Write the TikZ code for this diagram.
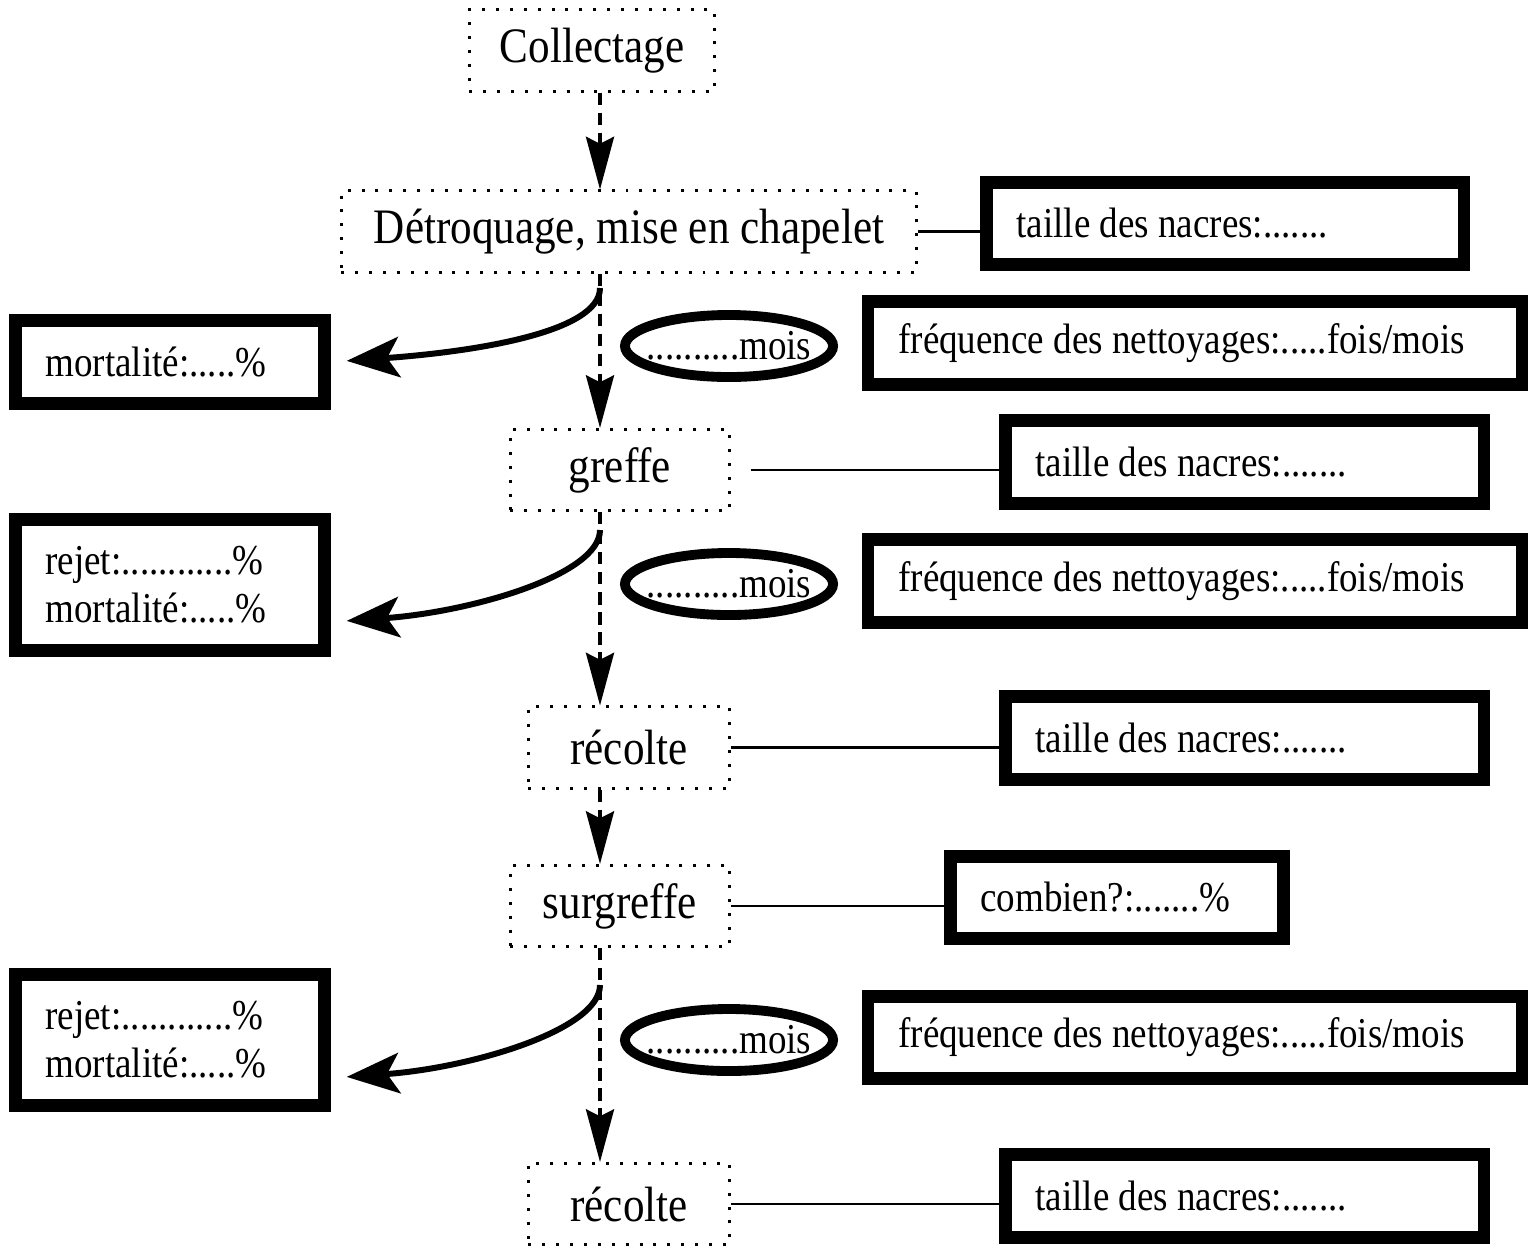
\documentclass[tikz,border=0pt]{standalone}
\usepackage{fontspec}
\setmainfont{Liberation Serif}[FakeStretch=0.87]
\usetikzlibrary{arrows.meta, shapes.geometric}

\begin{document}
\begin{tikzpicture}[
            > = {Stealth[length=15pt, width=8pt, inset=2pt]}, % arrow head style
            x = 0.01cm, y = -0.01cm, % one unit = one pixel of the sketch
            line width = 0.7pt % line style
        ]

        \tikzstyle{etape}=[
            draw = black,
            line width = 0.85pt,
            dash pattern = on 0.85pt off 3.1pt,
            inner sep = 0pt,
            minimum height = 8.1mm,
            font = \fontsize{14.1}{17}\selectfont
        ]
        \tikzstyle{info}=[
            draw = black,
            line width = 3.5pt,
            inner xsep = 3mm,
            inner ysep = 0pt,
            align = flush left,
            font = \fontsize{12.1}{13.6}\selectfont
        ]
        \tikzstyle{duree}=[
            ellipse,
            draw = black,
            line width = 2.8pt,
            inner sep = 0pt,
            minimum width = 20.8mm,
            minimum height = 6.2mm,
            font = \fontsize{12.1}{13}\selectfont
        ]
        \tikzstyle{suite}=[->, line width = 0.9pt, dash pattern = on 3.5pt off 2.2pt]
        \tikzstyle{perte}=[
            -{Stealth[length=15pt, width=11.5pt, inset=3.5pt]},
            line width = 1.7pt,
            shorten > = 1.6mm
        ]

	\useasboundingbox (0,0) rectangle (1528,1254);

	% etapes
	\node[etape, minimum width=24.5mm] (collectage) at (592,50.5) {Collectage};
	\node[etape, minimum width=57.5mm] (detroquage) at (629,231.5) {Détroquage, mise en chapelet};
	\node[etape, minimum width=21.9mm] (greffe) at (620,470) {greffe};
	\node[etape, minimum width=20.1mm] (recolte1) at (629,747.5) {récolte};
	\node[etape, minimum width=21.9mm] (surgreffe) at (620,906) {surgreffe};
	\node[etape, minimum width=20.1mm] (recolte2) at (629,1204) {récolte};

	% durees
	\node[duree] (duree1) at (729,346) {\makebox[0pt]{..........mois}};
	\node[duree] (duree2) at (729,584) {\makebox[0pt]{..........mois}};
	\node[duree] (duree3) at (729,1040) {\makebox[0pt]{..........mois}};

	% a gauche
	\node[info, text width=24.9mm, minimum height=8.3mm] (mort1) at (170,362) {mortalité:.....\%};
	\node[info, text width=24.9mm, minimum height=13.1mm] (mort2) at (170,585) {rejet:............\%\\mortalité:.....\%};
	\node[info, text width=24.9mm, minimum height=13.1mm] (mort3) at (170,1040) {rejet:............\%\\mortalité:.....\%};

	% a droite
	\node[info, text width=41.7mm, minimum height=8.2mm] (taille1) at (1225,223.5) {taille des nacres:.......};
	\node[info, text width=59.3mm, minimum height=8.3mm] (nett1) at (1195,343) {fréquence des nettoyages:.....fois/mois};
	\node[info, text width=41.8mm, minimum height=8.3mm] (taille2) at (1244.5,462) {taille des nacres:.......};
	\node[info, text width=59.3mm, minimum height=8.3mm] (nett2) at (1195,581) {fréquence des nettoyages:.....fois/mois};
	\node[info, text width=41.8mm, minimum height=8.3mm] (taille3) at (1244.5,738) {taille des nacres:.......};
	\node[info, text width=27.3mm, minimum height=8.2mm] (combien) at (1117,897.5) {combien?:.......\%};
	\node[info, text width=59.3mm, minimum height=8.2mm] (nett3) at (1195,1037.5) {fréquence des nettoyages:.....fois/mois};
	\node[info, text width=41.8mm, minimum height=8.3mm] (taille4) at (1244.5,1196) {taille des nacres:.......};

	% fil des etapes
	\coordinate (axe) at (600,0);
	\draw[suite] (collectage.south -| axe) -- (detroquage.north -| axe);
	\draw[suite] (detroquage.south -| axe) -- (greffe.north -| axe);
	\draw[suite] (greffe.south -| axe) -- (recolte1.north -| axe);
	\draw[suite] (recolte1.south -| axe) -- (surgreffe.north -| axe);
	\draw[suite] (surgreffe.south -| axe) -- (recolte2.north -| axe);

	% pertes
	\coordinate (p1) at (600,288);
	\coordinate (p2) at (600,530);
	\coordinate (p3) at (600,985);
	\draw[perte] (p1) .. controls +(0,45) and +(140,-10) .. (mort1.east);
	\draw[perte] (p2) .. controls +(0,45) and +(140,-10) .. ([yshift=-3.7mm]mort2.east);
	\draw[perte] (p3) .. controls +(0,45) and +(140,-10) .. ([yshift=-3.8mm]mort3.east);

	% mesures
	\draw (detroquage.east) -- (detroquage.east -| taille1.west);
	\draw[shorten < = 2mm] (greffe.east) -- (greffe.east -| taille2.west);
	\draw (recolte1.east) -- (recolte1.east -| taille3.west);
	\draw (surgreffe.east) -- (surgreffe.east -| combien.west);
	\draw (recolte2.east) -- (recolte2.east -| taille4.west);

    \end{tikzpicture}
\end{document}
